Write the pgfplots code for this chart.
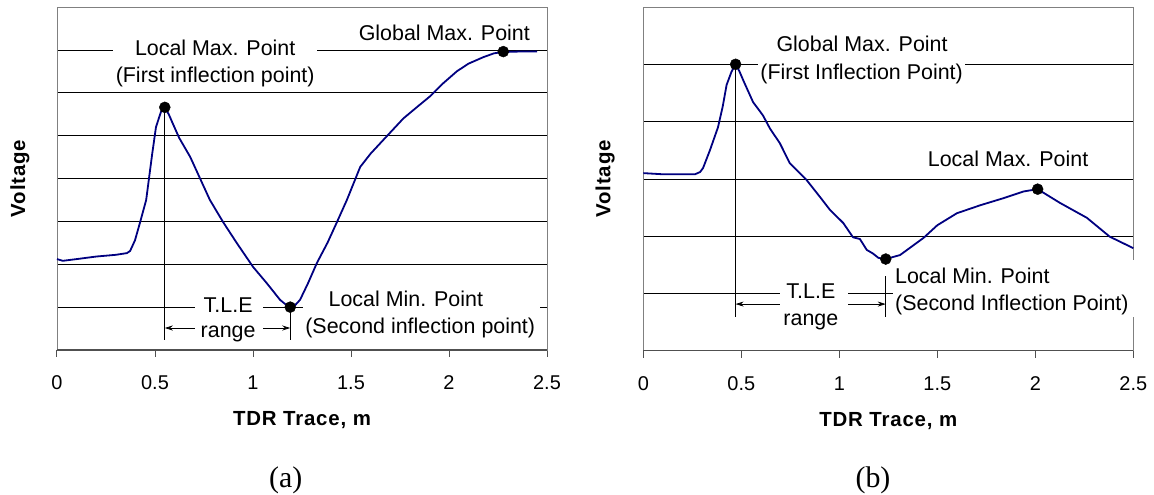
\documentclass[border=0pt]{standalone}
\usepackage{fontspec}
\setmainfont{Liberation Sans}
\newfontfamily\seriffont{Liberation Serif}
\newfontfamily\lblfont[LetterSpace=4]{Liberation Sans}
\usepackage{pgfplots}
\pgfplotsset{compat=1.18}
\usetikzlibrary{arrows.meta}
\definecolor{curve}{RGB}{0,0,128}
\definecolor{framegray}{RGB}{128,128,128}
\definecolor{axisgray}{RGB}{80,80,80}
\newcommand\ann{\fontsize{21.5}{25}\selectfont}
\pgfplotsset{
  tdr/.style={
    scale only axis, width=490bp, height=343bp,
    clip=false,
    xmin=0, xmax=2.5, xtick={0,0.5,1,1.5,2,2.5},
    /pgf/number format/assume math mode=true,
    xtick pos=lower, tick align=outside, major tick length=7bp,
    x tick style={color=axisgray, line width=1bp},
    ytick style={draw=none}, yticklabels={},
    ymajorgrids, grid style={black, line width=0.7bp},
    axis line style={framegray, line width=0.8bp},
    tick label style={font=\fontsize{20}{24}\selectfont},
    xticklabel style={anchor=center, yshift=-26bp},
    label style={font=\lblfont\bfseries\fontsize{20.5}{24}\selectfont},
    xlabel={TDR Trace, m}, ylabel={Voltage},
    xlabel style={at={(axis description cs:0.5,-0.204)}, anchor=center},
    ylabel style={at={(axis description cs:-0.0755,0.5)}, anchor=center},
  },
}
\tikzset{
  arr/.style={black, line width=0.7bp, {Stealth[length=8bp,width=5bp]}-{Stealth[length=8bp,width=5bp]}},
  vl/.style={black, line width=0.7bp},
  an/.style={font=\ann, inner sep=0pt},
}
\begin{document}
\begin{tikzpicture}
\useasboundingbox (0,0) rectangle (1154bp,495bp);
% ---------------- (a) ----------------
\begin{axis}[tdr, at={(57bp,145bp)}, anchor=south west, ymin=0, ymax=8, ytick={1,2,3,4,5,6,7}]
\draw[arr] (axis cs:0.55,0.513) -- (axis cs:1.19,0.513);
\fill[white] (axis cs:0.286,6.08) rectangle (axis cs:1.327,7.25);
\fill[white] (axis cs:0.704,0.12) rectangle (axis cs:1.052,1.4);
\fill[white] (axis cs:1.256,0.12) rectangle (axis cs:2.466,1.45);
\addplot[curve, line width=1.8bp, line join=round] coordinates {
(0,2.12) (0.03,2.08) (0.1,2.12) (0.2,2.18) (0.3,2.22) (0.357,2.26) (0.373,2.31)
(0.398,2.56) (0.424,2.98) (0.455,3.5) (0.485,4.55) (0.505,5.2) (0.53,5.55) (0.55,5.65)
(0.57,5.5) (0.59,5.29) (0.623,4.95) (0.68,4.5) (0.73,4.0) (0.78,3.5) (0.848,2.98)
(0.918,2.49) (1.0,1.94) (1.07,1.56) (1.138,1.17) (1.17,1.05) (1.19,0.99) (1.21,1.02)
(1.24,1.17) (1.28,1.55) (1.326,2.03) (1.38,2.5) (1.428,2.98) (1.479,3.5) (1.547,4.27)
(1.6,4.58) (1.665,4.9) (1.767,5.4) (1.835,5.66) (1.904,5.92) (1.97,6.22) (2.04,6.5) (2.1,6.68)
(2.175,6.83) (2.23,6.92) (2.277,6.95) (2.35,6.96) (2.45,6.96)
};
\addplot[only marks, mark=*, mark size=5.5bp, black] coordinates {(0.55,5.66) (1.19,1.0) (2.277,6.96)};
\draw[axisgray, line width=1.2bp] (rel axis cs:0,0) -- (rel axis cs:1,0);
\draw[vl] (axis cs:0.55,5.66) -- (axis cs:0.55,0.233);
\draw[vl] (axis cs:1.19,1.0) -- (axis cs:1.19,0.233);
\node[an, anchor=base] at (axis cs:0.807,6.86) {Local Max. Point};
\node[an, anchor=base] at (axis cs:0.807,6.24) {(First inflection point)};
\node[an, anchor=base] at (axis cs:1.976,7.23) {Global Max. Point};
\node[an, anchor=base] at (axis cs:0.873,0.886) {T.L.E};
\node[an, anchor=base] at (axis cs:0.873,0.30) {range};
\node[an, anchor=base west] at (axis cs:1.385,1.026) {Local Min. Point};
\node[an, anchor=base west] at (axis cs:1.266,0.38) {(Second inflection point)};
\end{axis}
% ---------------- (b) ----------------
\begin{axis}[tdr, at={(643.3bp,144.3bp)}, anchor=south west, height=343.7bp, ymin=0, ymax=6, ytick={1,2,3,4,5},
  ylabel style={at={(axis description cs:-0.078,0.5)}}]
\draw[arr] (axis cs:0.471,0.814) -- (axis cs:1.237,0.814);
\fill[white] (axis cs:0.587,4.55) rectangle (axis cs:1.641,5.6);
\fill[white] (axis cs:0.696,0.27) rectangle (axis cs:1.044,1.27);
\fill[white] (axis cs:1.274,0.59) rectangle (axis cs:2.514,1.58);
\addplot[curve, line width=1.8bp, line join=round] coordinates {
(0,3.10) (0.1,3.08) (0.2,3.08) (0.264,3.08) (0.29,3.12) (0.305,3.19) (0.34,3.5)
(0.381,3.9) (0.405,4.26) (0.425,4.64) (0.45,4.87) (0.471,5.0) (0.49,4.88) (0.51,4.72)
(0.56,4.34) (0.61,4.11) (0.646,3.88) (0.697,3.62) (0.748,3.27) (0.833,2.98) (0.9,2.69)
(0.952,2.46) (1.02,2.23) (1.07,1.98) (1.105,1.95) (1.14,1.76) (1.17,1.70) (1.2,1.62)
(1.237,1.6) (1.31,1.67) (1.43,1.97) (1.5,2.19) (1.6,2.4) (1.72,2.54) (1.835,2.66)
(1.94,2.78) (2.012,2.82) (2.126,2.58) (2.263,2.32) (2.38,1.99) (2.5,1.79)
};
\addplot[only marks, mark=*, mark size=5.5bp, black] coordinates {(0.471,5.0) (1.237,1.6) (2.012,2.82)};
\draw[axisgray, line width=1.2bp] (rel axis cs:0,0) -- (rel axis cs:1,0);
\draw[vl] (axis cs:0.471,5.0) -- (axis cs:0.471,0.594);
\draw[vl] (axis cs:1.237,1.30) -- (axis cs:1.237,0.59);
\node[an, anchor=base] at (axis cs:1.116,5.215) {Global Max. Point};
\node[an, anchor=base] at (axis cs:1.114,4.74) {(First Inflection Point)};
\node[an, anchor=base] at (axis cs:0.855,0.915) {T.L.E};
\node[an, anchor=base] at (axis cs:0.855,0.437) {range};
\node[an, anchor=base west] at (axis cs:1.284,1.177) {Local Min. Point};
\node[an, anchor=base west] at (axis cs:1.284,0.70) {(Second Inflection Point)};
\node[an, anchor=base] at (axis cs:1.861,3.21) {Local Max. Point};
\end{axis}
\node[font=\seriffont\fontsize{30}{36}\selectfont, anchor=base] at (285.7bp,7.5bp) {(a)};
\node[font=\seriffont\fontsize{30}{36}\selectfont, anchor=base] at (873bp,7.5bp) {(b)};
\end{tikzpicture}
\end{document}
